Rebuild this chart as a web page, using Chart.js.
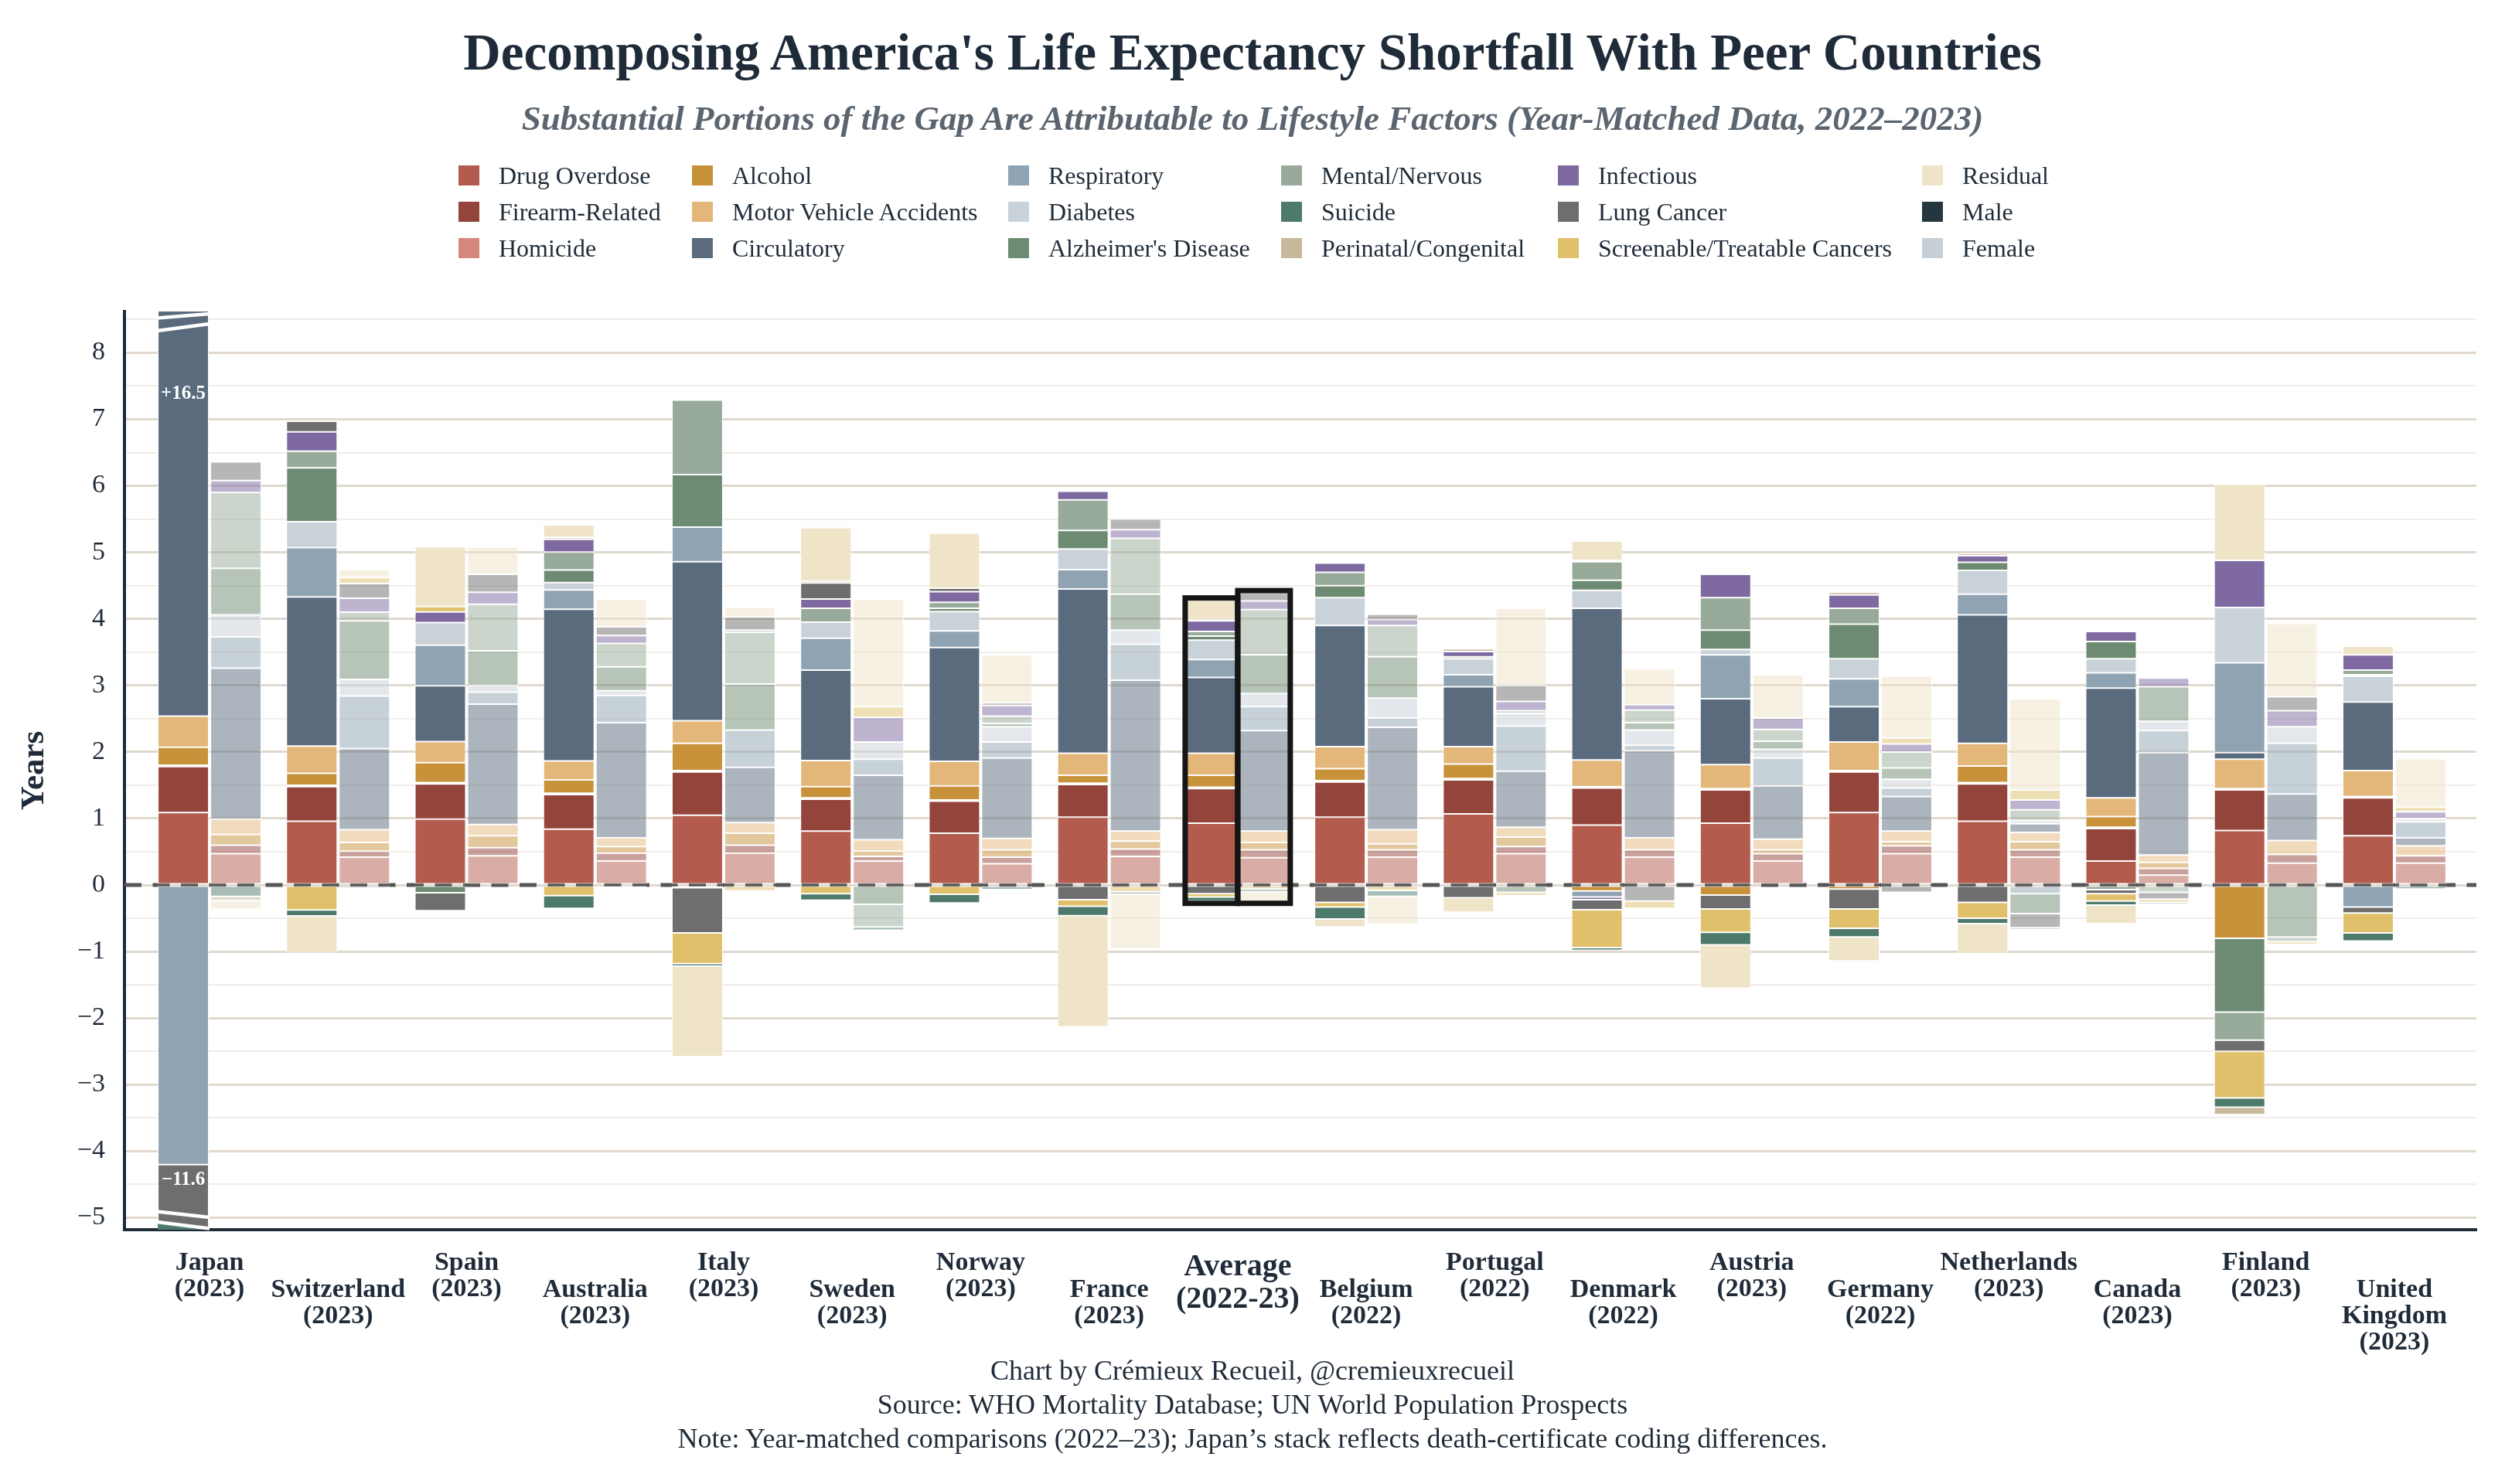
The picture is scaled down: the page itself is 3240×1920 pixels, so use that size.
<!DOCTYPE html>
<html>
<head>
<meta charset="utf-8">
<script src="https://cdn.jsdelivr.net/npm/chart.js@4.4.1/dist/chart.umd.min.js"></script>
<style>
  html, body { margin: 0; padding: 0; background: #fff; }
  #page { position: relative; width: 3240px; height: 1920px; overflow: hidden;
          font-family: "Liberation Serif", serif; color: #1f2b38; }
  #chart { position: absolute; left: 0; top: 0; }
  .title { position: absolute; left: 0; width: 3240px; text-align: center; top: 34px;
           font-size: 67px; line-height: 67px; font-weight: bold; }
  .subtitle { position: absolute; left: 0; width: 3240px; text-align: center; top: 131px;
              font-size: 45px; line-height: 45px; font-weight: bold; font-style: italic; color: #5b6570; }
  .item { position: absolute; height: 28px; display: flex; align-items: center;
          font-size: 32px; line-height: 28px; white-space: nowrap; }
  .sw { width: 27px; height: 26px; margin-right: 25px; flex: none; }
  .footer { position: absolute; left: 0; width: 3240px; top: 1751px; text-align: center;
            font-size: 36px; line-height: 44px; }
</style>
</head>
<body>
<div id="page">
  <canvas id="chart" width="3240" height="1920"></canvas>
  <div class="title">Decomposing America's Life Expectancy Shortfall With Peer Countries</div>
  <div class="subtitle">Substantial Portions of the Gap Are Attributable to Lifestyle Factors (Year-Matched Data, 2022–2023)</div>
  <div id="legend"></div>
  <div class="footer">Chart by Crémieux Recueil, @cremieuxrecueil<br>Source: WHO Mortality Database; UN World Population Prospects<br>Note: Year-matched comparisons (2022–23); Japan’s stack reflects death-certificate coding differences.</div>
</div>
<script>
// categories
const countries = ["Japan", "Switzerland", "Spain", "Australia", "Italy", "Sweden", "Norway", "France",
    "Average", "Belgium", "Portugal", "Denmark", "Austria", "Germany", "Netherlands", "Canada",
    "Finland", "United Kingdom"];
const years = ["(2023)", "(2023)", "(2023)", "(2023)", "(2023)", "(2023)", "(2023)", "(2023)",
    "(2022-23)", "(2022)", "(2022)", "(2022)", "(2023)", "(2022)", "(2023)", "(2023)",
    "(2023)", "(2023)"];

// male contributions (years)
const drugM = [1.09, 0.96, 0.99, 0.84, 1.05, 0.81, 0.78, 1.02, 0.93, 1.02, 1.07, 0.90, 0.93, 1.09, 0.96, 0.36, 0.82, 0.74];
const firearmM = [0.69, 0.52, 0.53, 0.52, 0.65, 0.48, 0.48, 0.49, 0.52, 0.53, 0.51, 0.56, 0.50, 0.61, 0.56, 0.49, 0.61, 0.57];
const homicideM = [0.02, 0.02, 0.02, 0.02, 0.02, 0.02, 0.02, 0.02, 0.02, 0.02, 0.02, 0.02, 0.02, 0.02, 0.02, 0.02, 0.02, 0.02];
const alcoholM = [0.27, 0.18, 0.30, 0.20, 0.41, 0.17, 0.21, 0.12, 0.18, 0.18, 0.22, -0.09, -0.15, -0.06, 0.25, 0.16, -0.80, 0];
const mvaM = [0.47, 0.41, 0.315, 0.285, 0.34, 0.39, 0.37, 0.33, 0.33, 0.33, 0.26, 0.40, 0.36, 0.43, 0.34, 0.28, 0.44, 0.39];
const circM = [16.5, 2.24, 0.84, 2.28, 2.39, 1.36, 1.71, 2.47, 1.14, 1.82, 0.90, 2.28, 0.99, 0.53, 1.93, 1.65, 0.10, 1.03];
const respM = [-4.2, 0.74, 0.61, 0.29, 0.52, 0.48, 0.25, 0.29, 0.27, 0, 0.18, -0.09, 0.66, 0.42, 0.31, 0.23, 1.35, -0.33];
const diabM = [0, 0.39, 0.34, 0.11, 0, 0.24, 0.29, 0.31, 0.29, 0.42, 0.24, 0.27, 0.08, 0.30, 0.36, 0.21, 0.83, 0.39];
const alzM = [0, 0.81, -0.115, 0.19, 0.79, 0, 0.05, 0.28, 0.06, 0.18, 0, 0.15, 0.29, 0.52, 0.12, 0.26, -1.11, 0.02];
const mentalM = [0, 0.25, 0, 0.27, 1.12, 0.21, 0.09, 0.46, 0.07, 0.20, 0.03, 0.28, 0.49, 0.24, 0, -0.07, -0.42, 0.07];
const infectM = [0, 0.29, 0.16, 0.19, -0.04, 0.14, 0.16, 0.13, 0.16, 0.14, 0.08, -0.04, 0.35, 0.20, 0.10, 0.15, 0.71, 0.23];
const lungM = [-11.6, 0.16, -0.27, 0, -0.68, 0.24, 0.05, -0.22, -0.13, -0.26, -0.19, -0.15, -0.21, -0.30, -0.26, -0.06, -0.17, -0.09];
const screenM = [0, -0.375, 0.08, -0.16, -0.46, -0.13, -0.14, -0.10, -0.05, -0.07, 0, -0.57, -0.35, -0.29, -0.24, -0.11, -0.70, -0.30];
const suicideM = [-0.15, -0.09, 0, -0.19, -0.04, -0.10, -0.13, -0.14, -0.06, -0.18, 0, -0.04, -0.19, -0.13, -0.08, -0.06, -0.14, -0.12];
const periM = [0, 0, 0, 0.03, 0, 0.03, 0, 0, 0.02, 0.02, 0.04, 0.02, 0, 0.04, 0.03, 0, -0.11, 0];
const residM = [0, -0.55, 0.90, 0.19, -1.36, 0.80, 0.83, -1.67, 0.29, -0.12, -0.22, 0.29, -0.65, -0.36, -0.45, -0.28, 1.14, 0.13];

// female contributions (years)
const drugF = [0.47, 0.42, 0.44, 0.36, 0.48, 0.36, 0.32, 0.43, 0.41, 0.42, 0.47, 0.42, 0.36, 0.47, 0.42, 0.15, 0.33, 0.33];
const firearmF = [0.13, 0.09, 0.12, 0.12, 0.12, 0.07, 0.10, 0.11, 0.12, 0.11, 0.11, 0.11, 0.11, 0.12, 0.11, 0.10, 0.13, 0.11];
const homicideF = [0, 0, 0, 0, 0, 0, 0, 0, 0, 0, 0, 0, 0, 0, 0, 0, 0, 0];
const alcoholF = [0.16, 0.13, 0.18, 0.10, 0.18, 0.08, 0.11, 0.12, 0.11, 0.09, 0.14, 0, 0.06, 0.06, 0.12, 0.09, 0, 0];
const mvaF = [0.23, 0.19, 0.17, 0.13, 0.16, 0.17, 0.17, 0.15, 0.17, 0.21, 0.15, 0.18, 0.16, 0.16, 0.14, 0.11, 0.21, 0.15];
const circF = [2.27, 1.22, 1.81, 1.73, 0.83, 0.97, 1.21, 2.27, 1.51, 1.54, 0.84, 1.31, 0.80, 0.52, 0.13, 1.54, 0.70, 0.12];
const respF = [0.47, 0.79, 0.18, 0.41, 0.56, 0.24, 0.24, 0.54, 0.36, 0.14, 0.68, 0.08, 0.42, 0.13, -0.13, 0.33, 0.76, 0.24];
const diabF = [0.33, 0.25, 0.10, 0.07, 0, 0.26, 0.23, 0.21, 0.20, 0.30, 0.19, 0.23, 0.13, 0.13, 0.05, 0.14, 0.25, 0.05];
const alzF = [0.70, 0.88, 0.52, 0.36, 0.69, -0.29, 0.05, 0.54, 0.58, 0.62, -0.11, 0.11, 0.12, 0.17, -0.30, 0.52, -0.78, 0];
const mentalF = [1.14, 0.13, 0.70, 0.35, 0.78, -0.34, 0.11, 0.84, 0.68, 0.47, 0.04, 0.19, 0.18, 0.24, 0.16, -0.11, -0.07, 0];
const infectF = [0.18, 0.21, 0.18, 0.12, 0.03, 0.37, 0.16, 0.13, 0.13, 0.09, 0.14, 0.08, 0.17, 0.12, 0.15, 0.13, 0.24, 0.10];
const lungF = [0.28, 0.22, 0.27, 0.13, 0.20, 0, 0.04, 0.16, 0.12, 0.08, 0.24, -0.24, 0, -0.11, -0.21, -0.10, 0.21, 0];
const screenF = [0, 0.09, 0, 0, -0.09, 0.16, -0.02, -0.10, -0.06, -0.08, -0.05, -0.11, 0, 0.09, 0.15, -0.05, -0.04, 0.07];
const suicideF = [-0.17, -0.045, 0, -0.04, 0, -0.05, -0.05, -0.04, -0.04, -0.09, 0, 0, 0, 0, -0.03, -0.03, 0, -0.06];
const periF = [-0.065, 0, 0, 0, 0, 0, 0, 0, 0, 0, 0, 0, 0, 0, 0, 0, 0, 0];
const residF = [-0.13, 0.12, 0.41, 0.42, 0.14, 1.62, 0.72, -0.82, -0.14, -0.42, 1.16, 0.54, 0.65, 0.93, 1.37, 0, 1.10, 0.73];

// stacking order, bottom to top
const causes = [
    { name: "Drug Overdose", color: "#b35c4e", male: drugM, female: drugF },
    { name: "Firearm-Related", color: "#93443b", male: firearmM, female: firearmF },
    { name: "Homicide", color: "#d4887c", male: homicideM, female: homicideF },
    { name: "Alcohol", color: "#c8923b", male: alcoholM, female: alcoholF },
    { name: "Motor Vehicle Accidents", color: "#e3b77a", male: mvaM, female: mvaF },
    { name: "Circulatory", color: "#5a6b7e", male: circM, female: circF },
    { name: "Respiratory", color: "#8fa3b2", male: respM, female: respF },
    { name: "Diabetes", color: "#cad2d9", male: diabM, female: diabF },
    { name: "Alzheimer's Disease", color: "#6d8b72", male: alzM, female: alzF },
    { name: "Mental/Nervous", color: "#98ab9a", male: mentalM, female: mentalF },
    { name: "Infectious", color: "#7e6aa1", male: infectM, female: infectF },
    { name: "Lung Cancer", color: "#6e6e6e", male: lungM, female: lungF },
    { name: "Screenable/Treatable Cancers", color: "#e0c06b", male: screenM, female: screenF },
    { name: "Suicide", color: "#4d7a6b", male: suicideM, female: suicideF },
    { name: "Perinatal/Congenital", color: "#c8b89c", male: periM, female: periF },
    { name: "Residual", color: "#efe4c8", male: residM, female: residF }
];

const legendOrder = ["Drug Overdose", "Firearm-Related", "Homicide", "Alcohol", "Motor Vehicle Accidents",
    "Circulatory", "Respiratory", "Diabetes", "Alzheimer's Disease", "Mental/Nervous", "Suicide",
    "Perinatal/Congenital", "Infectious", "Lung Cancer", "Screenable/Treatable Cancers", "Residual",
    "Male", "Female"];
const sexColors = { Male: "#263640", Female: "#c6ced6" };

// legend (6 columns x 3 rows, column-major)
const legendCols = [593, 895, 1304, 1657, 2015, 2486];
const legendRows = [227, 274, 321];
const legendEl = document.getElementById("legend");
legendOrder.forEach((name, i) => {
    const c = causes.find(k => k.name === name);
    const color = c ? c.color : sexColors[name];
    const item = document.createElement("div");
    item.className = "item";
    item.style.left = legendCols[Math.floor(i / 3)] + "px";
    item.style.top = (legendRows[i % 3] - 14) + "px";
    item.innerHTML = '<span class="sw" style="background:' + color + '"></span>' + name;
    legendEl.appendChild(item);
});

const datasets = [];
causes.forEach(c => {
    datasets.push({
        label: c.name + " (Male)",
        data: c.male.map(v => v === 0 ? null : v),
        stack: "M",
        backgroundColor: c.color
    });
    datasets.push({
        label: c.name + " (Female)",
        data: c.female.map(v => v === 0 ? null : v),
        stack: "F",
        backgroundColor: c.color + "80"
    });
});

const sumOf = (arr, sign) => arr.reduce((s, v) => (sign > 0 ? (v > 0 ? s + v : s) : (v < 0 ? s + v : s)), 0);

const decor = {
    id: "decor",
    beforeDatasetsDraw(chart) {
        const { ctx, chartArea: a, scales: { y } } = chart;
        const y0 = y.getPixelForValue(0);
        ctx.save();
        ctx.strokeStyle = "#565656";
        ctx.lineWidth = 5;
        ctx.setLineDash([22, 14.5]);
        ctx.beginPath();
        ctx.moveTo(a.left, y0);
        ctx.lineTo(a.right, y0);
        ctx.stroke();
        ctx.restore();
    },
    afterDatasetsDraw(chart) {
        const { ctx, chartArea: a, scales: { y } } = chart;
        ctx.save();

        // boxes round the average bars
        const avg = countries.indexOf("Average");
        [0, 1].forEach(k => {
            const bar = chart.getDatasetMeta(k).data[avg];
            const vals = causes.map(c => (k === 0 ? c.male : c.female)[avg]);
            const top = y.getPixelForValue(sumOf(vals, 1));
            const bot = y.getPixelForValue(sumOf(vals, -1));
            const left = bar.x - bar.width / 2;
            ctx.lineWidth = 7;
            ctx.strokeStyle = "#151515";
            ctx.strokeRect(left - 1, top - 3, bar.width + 2, bot - top + 6);
        });

        // broken Japan bars
        const circIdx = causes.findIndex(c => c.name === "Circulatory") * 2;
        const lungIdx = causes.findIndex(c => c.name === "Lung Cancer") * 2;
        const suiIdx = causes.findIndex(c => c.name === "Suicide");
        const jp = chart.getDatasetMeta(circIdx).data[0];
        const L = jp.x - jp.width / 2 - 1, R = jp.x + jp.width / 2 + 1;
        const b = a.bottom;

        ctx.fillStyle = causes[suiIdx].color;
        ctx.beginPath();
        ctx.moveTo(L + 1, b - 10);
        ctx.lineTo(R - 1, b - 2);
        ctx.lineTo(R - 1, b);
        ctx.lineTo(L + 1, b);
        ctx.closePath();
        ctx.fill();

        ctx.strokeStyle = "#ffffff";
        ctx.lineWidth = 4.5;
        [[a.top + 8.5, a.top + 3], [a.top + 25, a.top + 16], [b - 23.5, b - 16], [b - 10, b - 1.5]].forEach(s => {
            ctx.beginPath();
            ctx.moveTo(L, s[0]);
            ctx.lineTo(R, s[1]);
            ctx.stroke();
        });

        ctx.fillStyle = "#ffffff";
        ctx.font = 'bold 25px "Liberation Serif"';
        ctx.textAlign = "center";
        ctx.textBaseline = "middle";
        ctx.fillText("+" + circM[0].toFixed(1), jp.x, y.getPixelForValue(7.38));
        const jl = chart.getDatasetMeta(lungIdx).data[0];
        ctx.fillText("\u2212" + Math.abs(lungM[0]).toFixed(1), jl.x, y.getPixelForValue(-4.43));
        ctx.restore();
    },
    afterDraw(chart) {
        const { ctx, chartArea: a, scales: { x } } = chart;
        ctx.save();
        ctx.fillStyle = "#1f2b38";
        ctx.textAlign = "center";
        ctx.textBaseline = "alphabetic";
        countries.forEach((name, i) => {
            const cx = x.getPixelForValue(i);
            if (name === "Average") {
                ctx.font = 'bold 40px "Liberation Serif"';
                ctx.fillText(name, cx, a.bottom + 59);
                ctx.fillText(years[i], cx, a.bottom + 101);
                return;
            }
            ctx.font = 'bold 34px "Liberation Serif"';
            const lines = name === "United Kingdom" ? ["United", "Kingdom"] : [name];
            lines.push(years[i]);
            const base = a.bottom + (i % 2 === 0 ? 52 : 87);
            lines.forEach((t, j) => ctx.fillText(t, cx, base + j * 34));
        });

        ctx.translate(45, (a.top + a.bottom) / 2);
        ctx.rotate(-Math.PI / 2);
        ctx.font = 'bold 43px "Liberation Serif"';
        ctx.textBaseline = "middle";
        ctx.fillText("Years", 0, 0);
        ctx.restore();
    }
};

Chart.defaults.font.family = '"Liberation Serif", serif';

new Chart(document.getElementById("chart"), {
    type: "bar",
    data: {
        labels: countries,
        datasets: datasets
    },
    options: {
        responsive: false,
        animation: false,
        devicePixelRatio: 1,
        layout: { padding: { top: 403, right: 37, bottom: 0, left: 0 } },
        datasets: {
            bar: {
                borderColor: "#ffffff",
                borderWidth: 1,
                borderSkipped: false,
                categoryPercentage: 0.818,
                barPercentage: 0.97,
                clip: 0
            }
        },
        plugins: {
            legend: { display: false },
            tooltip: { enabled: false }
        },
        scales: {
            x: {
                stacked: true,
                offset: true,
                grid: { display: false },
                border: { display: true, color: "#1f2b38", width: 4 },
                ticks: { display: false },
                afterBuildTicks: s => { s._startValue = -0.662; s._valueRange = 18.30; },
                afterFit: s => { s.height = 329; s.paddingLeft = 0; s.paddingRight = 0; }
            },
            y: {
                stacked: true,
                min: -5.18,
                max: 8.62,
                ticks: {
                    stepSize: 0.5,
                    includeBounds: false,
                    autoSkip: false,
                    padding: 25,
                    color: "#1f2b38",
                    font: { size: 34 },
                    callback: v => Number.isInteger(v) ? (v < 0 ? "\u2212" + Math.abs(v) : String(v)) : ""
                },
                grid: {
                    drawTicks: false,
                    color: c => Number.isInteger(c.tick.value) ? "#e0d8ce" : "#f1ede8",
                    lineWidth: c => Number.isInteger(c.tick.value) ? 3 : 2
                },
                border: { display: true, color: "#1f2b38", width: 4 },
                afterFit: s => { s.width = 161; s.paddingTop = 0; s.paddingBottom = 0; }
            }
        }
    },
    plugins: [decor]
});
</script>
</body>
</html>
